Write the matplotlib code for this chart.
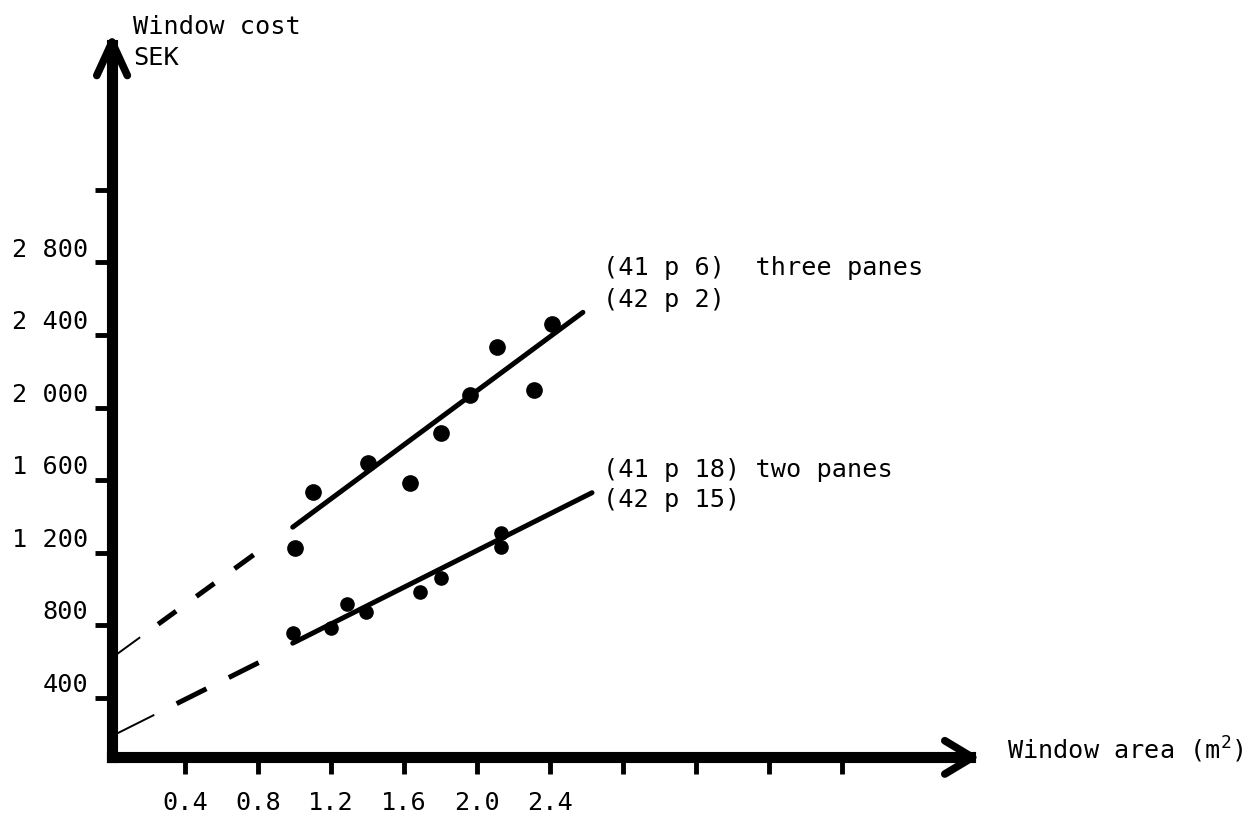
import matplotlib
matplotlib.use("Agg")
import matplotlib.pyplot as plt

plt.rcParams['font.family'] = ['DejaVu Sans Mono', 'DejaVu Sans']
plt.rcParams['mathtext.fontset'] = 'custom'
plt.rcParams['mathtext.rm'] = 'DejaVu Sans Mono'
plt.rcParams['mathtext.default'] = 'rm'
plt.rcParams['lines.scale_dashes'] = False

# measured windows: area (m2) vs cost (SEK)
three_x = [1.00, 1.10, 1.40, 1.63, 1.80, 1.96, 2.11, 2.31, 2.41]
three_y = [1225, 1535, 1695, 1585, 1860, 2070, 2335, 2095, 2460]
two_x = [0.99, 1.20, 1.29, 1.39, 1.69, 1.80, 2.13, 2.13]
two_y = [755, 785, 915, 870, 980, 1060, 1310, 1230]

# hand drawn regression lines
three_fit_x = [0.99, 2.58]
three_fit_y = [1340, 2525]
two_fit_x = [0.99, 2.63]
two_fit_y = [700, 1530]

# dashed extrapolation back to the cost axis
three_ext_x = [0.0, 0.80]
three_ext_y = [620, 1205]
two_ext_x = [0.0, 0.81]
two_ext_y = [188, 596]

x_ticks = [0.4, 0.8, 1.2, 1.6, 2.0, 2.4, 2.8, 3.2, 3.6, 4.0]
x_tick_labels = ['0.4', '0.8', '1.2', '1.6', '2.0', '2.4']
y_ticks = [400, 800, 1200, 1600, 2000, 2400, 2800, 3200]
y_tick_labels = ['400', '800', '1 200', '1 600', '2 000', '2 400', '2 800']

three_notes = ['(41 p 6)  three panes', '(42 p 2)']
two_notes = ['(41 p 18) two panes', '(42 p 15)']

x_axis_at = 70
fs = 18.2

fig = plt.figure(figsize=(12.51, 8.19), dpi=100)
ax = fig.add_axes([0, 0, 1, 1])
ax.set_xlim(-0.614, 6.241)
ax.set_ylim(-270, 4248)

# axes drawn like the hand sketch: thick lines with open arrow heads
for s in ['top', 'right']:
    ax.spines[s].set_visible(False)
ax.spines['left'].set_position(('data', 0))
ax.spines['bottom'].set_position(('data', x_axis_at))
ax.spines['left'].set_bounds(x_axis_at, 4000)
ax.spines['bottom'].set_bounds(0, 4.70)
for s in ['left', 'bottom']:
    ax.spines[s].set_linewidth(8)
    ax.spines[s].set_capstyle('projecting')
ax.set_xticks(x_ticks)
ax.set_yticks(y_ticks)
ax.tick_params(direction='out', length=12, width=3.5, color='black',
               labelbottom=False, labelleft=False)

arrow = dict(arrowstyle='->,head_length=1.2,head_width=0.55', lw=5.5,
             color='black', mutation_scale=20, shrinkA=0, shrinkB=0,
             capstyle='round', joinstyle='round')
ax.annotate('', xy=(0, 4066), xytext=(0, 3700), arrowprops=arrow)
arrow_x = dict(arrow, arrowstyle='->,head_length=1.0,head_width=0.6')
ax.annotate('', xy=(4.756, x_axis_at), xytext=(4.4, x_axis_at), arrowprops=arrow_x)

# tick labels (typed slightly above the marks, as in the original)
for v, lab in zip(y_ticks, y_tick_labels):
    ax.text(-0.13, v + 70, lab, ha='right', va='center', fontsize=fs)
for v, lab in zip(x_ticks, x_tick_labels):
    ax.text(v, -182, lab, ha='center', va='center', fontsize=fs)

ax.text(0.115, 4099, 'Window cost', ha='left', va='center', fontsize=fs)
ax.text(0.115, 3928, 'SEK', ha='left', va='center', fontsize=fs)
ax.text(4.904, 110, r'Window area (m$^{2}$)', ha='left', va='center', fontsize=fs)

# fitted lines
ax.plot(three_fit_x, three_fit_y, color='black', lw=3.6, solid_capstyle='round')
ax.plot(two_fit_x, two_fit_y, color='black', lw=3.6, solid_capstyle='round')

# extrapolation: a thin lead-in from the axis, then thick dashes
ax.plot(three_ext_x, three_ext_y, color='black', lw=1.4, linestyle=(0, (25, 1000)))
ax.plot(three_ext_x, three_ext_y, color='black', lw=3.6,
        linestyle=(0, (0.01, 41, 16, 18, 16, 18, 17, 18, 17, 18)))
ax.plot(two_ext_x, two_ext_y, color='black', lw=1.4, linestyle=(0, (34, 1000)))
ax.plot(two_ext_x, two_ext_y, color='black', lw=3.6,
        linestyle=(0, (0.01, 52, 24, 18, 24, 18, 24, 18)))

# data points
ax.plot(three_x, three_y, 'o', color='black', markersize=11)
ax.plot(two_x, two_y, 'o', color='black', markersize=9.5)

ax.text(2.69, 2770, three_notes[0], ha='left', va='center', fontsize=fs)
ax.text(2.69, 2593, three_notes[1], ha='left', va='center', fontsize=fs)
ax.text(2.69, 1655, two_notes[0], ha='left', va='center', fontsize=fs)
ax.text(2.69, 1490, two_notes[1], ha='left', va='center', fontsize=fs)

fig.savefig('out.png', dpi=100, facecolor='white')
